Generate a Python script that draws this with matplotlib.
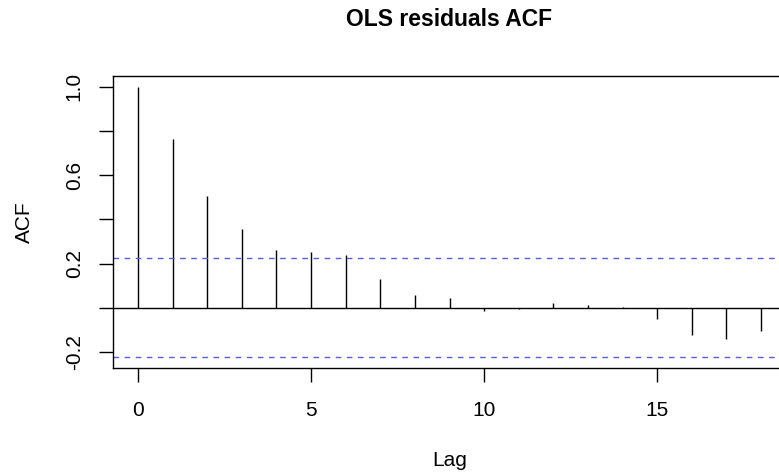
import matplotlib.pyplot as plt

plt.rcParams['font.family'] = ['Liberation Sans', 'DejaVu Sans']

lags = list(range(19))
acf = [1.0, 0.763, 0.505, 0.355, 0.262, 0.25, 0.239, 0.131, 0.058, 0.044,
       -0.015, -0.004, 0.022, 0.01, 0.003, -0.05, -0.125, -0.143, -0.104]
ci = 0.224

ytick_pos = [-0.2, 0.0, 0.2, 0.4, 0.6, 0.8, 1.0]
ytick_lab = ['-0.2', '', '0.2', '', '0.6', '', '1.0']
xtick_pos = [0, 5, 10, 15]

fig = plt.figure(figsize=(7.79, 4.75), dpi=100)
ax = fig.add_axes([113 / 779, 1 - 368 / 475, 673 / 779, 292 / 475])

# vertical spikes for each lag
ax.vlines(lags, 0, acf, colors='black', linewidth=1)
ax.axhline(0, color='black', linewidth=1)
# confidence bounds
ax.axhline(ci, color='#5a5ae6', linestyle=(0, (4, 4)), linewidth=1)
ax.axhline(-ci, color='#5a5ae6', linestyle=(0, (4, 4)), linewidth=1)

ax.set_xlim(-0.72, 18.72)
ax.set_ylim(-0.273, 1.049)
ax.set_xticks(xtick_pos)
ax.set_yticks(ytick_pos)
ax.set_yticklabels(ytick_lab, rotation=90, va='center')
ax.tick_params(length=10, width=1, labelsize=15, pad=14)
ax.tick_params(axis='y', pad=11)
for s in ax.spines.values():
    s.set_linewidth(1)

ax.set_xlabel('Lag', fontsize=15, labelpad=22)
ax.set_ylabel('ACF', fontsize=15, labelpad=22)
ax.set_title('OLS residuals ACF', fontsize=16.5, fontweight='bold', pad=36)

plt.savefig('out.png', dpi=100)
